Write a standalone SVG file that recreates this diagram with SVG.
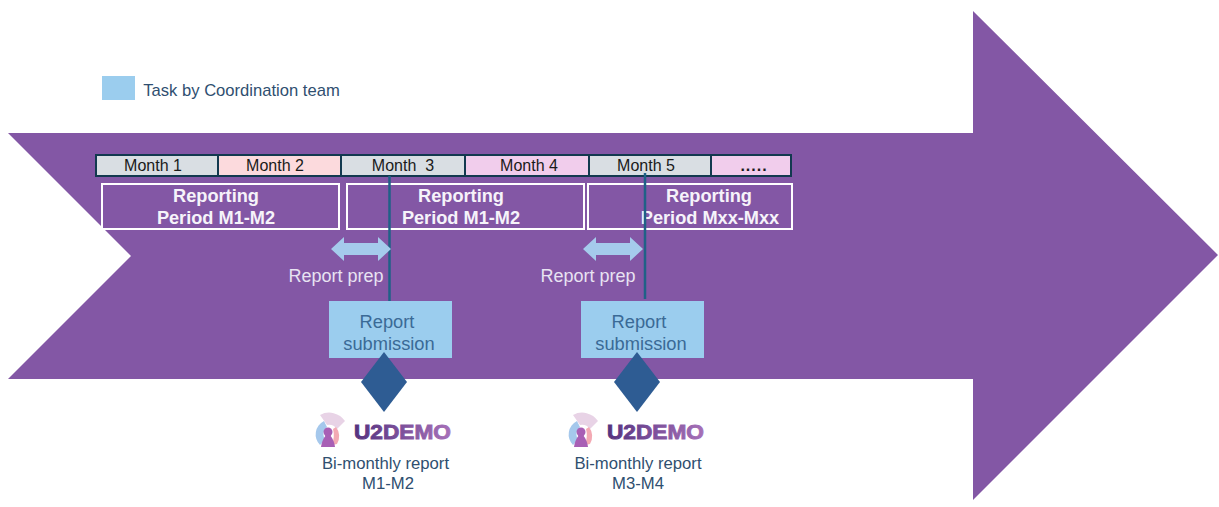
<svg xmlns="http://www.w3.org/2000/svg" width="1219" height="507" viewBox="0 0 1219 507">
<style>
text{font-family:"Liberation Sans",Arial,sans-serif;text-anchor:middle}
.m{font-size:16px;fill:#1a1a1a}
.c{stroke:#12394f;stroke-width:2}
.r{fill:none;stroke:#fff;stroke-width:2}
.rt{font-size:18.200px;font-weight:bold;fill:#f6f3fa}
.p{font-size:18px;fill:#e8e3f2}
.a{fill:#a5cbec}
.s{fill:#9bcdee}
.st{font-size:18.300px;fill:#3a6a96}
.d{fill:#2e5c93}
.b{font-size:16.700px;fill:#2f4f70}
.l{font-size:21px;font-weight:bold;text-anchor:start;fill:url(#lg);stroke:url(#lg);stroke-width:.9px}
.v{stroke:#1f6187;stroke-width:2.500px}
</style>
<defs>
<linearGradient id="lg" x1="0" x2="1" y1="0" y2="0"><stop offset="0" stop-color="#55327f"/><stop offset="1" stop-color="#a670b8"/></linearGradient>
<g id="logo">
<path d="M-4-15A19 19 0 0 1 21-9L13-1A10 10 0 0 0 3-5Z" fill="#e8d3e6"/>
<path d="M0-9A15 15 0 0 0-4 15L1 10Q-3 2 3-3Z" fill="#a5c8ec"/>
<path d="M12-3A15 15 0 0 1 13 14L8 15Q11 6 9-1Z" fill="#f3a9b3"/>
<circle cx="4" cy="2" r="4.500" fill="#a85fb5"/><path d="M-3 17Q-2 10 2 5H6Q10 10 11 17Z" fill="#a85fb5"/>
</g>
</defs>
<path id="arrow" d="M973 11L1218 255L973 500V379H8L131 256L8 133H973Z" fill="#8357a5"/>
<g id="legend"><rect x="102" y="76" width="33" height="24" class="s"/><text x="241.500" y="95.500" font-size="16.600" style="fill:#2f4f70">Task by Coordination team</text></g>
<g id="months">
<rect x="96" y="155" width="122" height="21" fill="#d9dee3" class="c"/><text x="153" y="170.500" class="m">Month 1</text>
<rect x="218" y="155" width="123" height="21" fill="#fcdadd" class="c"/><text x="275" y="170.500" class="m">Month 2</text>
<rect x="341" y="155" width="124" height="21" fill="#d9dee3" class="c"/><text x="403" y="170.500" class="m" xml:space="preserve">Month  3</text>
<rect x="465" y="155" width="124" height="21" fill="#f1cdec" class="c"/><text x="529" y="170.500" class="m">Month 4</text>
<rect x="589" y="155" width="122" height="21" fill="#d9dee3" class="c"/><text x="646" y="170.500" class="m">Month 5</text>
<rect x="711" y="155" width="80" height="21" fill="#f1cdec" class="c"/><text x="754" y="170.500" class="m" font-weight="bold" letter-spacing="1">.....</text>
</g>
<g id="periods">
<rect x="102" y="184" width="237" height="45" class="r"/><text x="216" y="201.500" class="rt">Reporting</text><text x="216" y="224" class="rt">Period M1-M2</text>
<rect x="347" y="184" width="237" height="45" class="r"/><text x="461" y="201.500" class="rt">Reporting</text><text x="461" y="224" class="rt">Period M1-M2</text>
<rect x="588" y="184" width="204" height="45" class="r"/><text x="709" y="201.500" class="rt">Reporting</text><text x="710" y="224" class="rt" font-size="18">Period Mxx-Mxx</text>
</g>
<g id="connectors">
<line x1="389.500" y1="176" x2="389.500" y2="301" class="v"/>
<line x1="645" y1="173" x2="645" y2="299" class="v"/>
<path class="a" d="M331 249L344 237V243H378V237L391 249L378 261V255H344V261Z"/>
<path class="a" d="M583 249L596 237V243H630V237L643 249L630 261V255H596V261Z"/>
</g>
<g id="prep1"><text x="336" y="282" class="p">Report prep</text></g>
<g id="prep2"><text x="588" y="282" class="p">Report prep</text></g>
<g id="sub1"><rect x="329" y="301" width="123" height="57" class="s"/><text x="387" y="328" class="st">Report</text><text x="389" y="350" class="st">submission</text></g>
<g id="sub2"><rect x="581" y="301" width="123" height="57" class="s"/><text x="639" y="328" class="st">Report</text><text x="641" y="350" class="st">submission</text></g>
<g id="milestone1"><polygon points="384,352 407,382 384,412 361,382" class="d"/></g>
<g id="milestone2"><polygon points="637,352 660,382 637,412 614,382" class="d"/></g>
<g id="report1"><use href="#logo" x="324" y="430"/><text x="354" y="439" class="l" textLength="97" lengthAdjust="spacingAndGlyphs">U2DEMO</text><text x="385.500" y="469" class="b">Bi-monthly report</text><text x="388" y="489" class="b">M1-M2</text></g>
<g id="report2"><use href="#logo" x="577" y="430"/><text x="607" y="439" class="l" textLength="97" lengthAdjust="spacingAndGlyphs">U2DEMO</text><text x="638" y="469" class="b">Bi-monthly report</text><text x="638" y="489" class="b">M3-M4</text></g>
</svg>
